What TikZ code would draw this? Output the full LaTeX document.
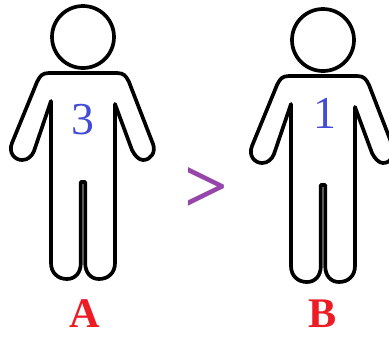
\documentclass[tikz,border=0pt]{standalone}
\usepackage{fontspec}
\setmainfont{Liberation Serif}
\usepackage{tikz}
\usetikzlibrary{positioning}
\definecolor{scoreblue}{RGB}{66,76,214}
\definecolor{signpurple}{RGB}{150,70,170}
\definecolor{namered}{RGB}{236,28,36}

\begin{document}
\begin{tikzpicture}[
    x=0.02cm, y=-0.02cm,
    outline/.style={draw=black, line width=2.1pt, line join=round},
    score/.style={text=scoreblue, font=\fontsize{26}{26}\selectfont, inner sep=0pt},
    sign/.style={text=signpurple, font=\fontsize{44}{44}\selectfont\bfseries, inner sep=0pt},
    label name/.style={text=namered, font=\fontsize{24}{24}\selectfont\bfseries, inner sep=0pt},
    person/.pic={
        \draw[outline] (0,0) circle (31);
        \draw[outline] (-32,64) -- (-32,226)
            .. controls (-32,236) and (-25,242) .. (-16,242)
            .. controls (-8,242) and (-2.2,236) .. (-2.2,226)
            -- (-2.2,145) -- (2.2,145) -- (2.2,226)
            .. controls (2.2,236) and (8,242) .. (16,242)
            .. controls (25,242) and (32,236) .. (32,226)
            -- (32,67) -- (49,113)
            .. controls (52,119) and (56,123) .. (60,123)
            .. controls (68,123) and (73,115) .. (70,107)
            -- (46,45) .. controls (43,39) and (41,36) .. (34,36)
            -- (-34,36) .. controls (-41,36) and (-43,39) .. (-46,45)
            -- (-71,106) .. controls (-75,116) and (-68,123) .. (-61,123)
            .. controls (-55,123) and (-51,119) .. (-49,114)
            -- cycle;
    }
]
\clip (0,0) rectangle (389,336);

% ===== PEOPLE =====
\pic (personA) at (83,37) {person};
\pic (personB) at (323,40) {person};

% ===== SCORES =====
\node[score] (scoreA) at (83,120) {3};
\node[score] (scoreB) at (325,113) {1};
\node[sign] (compare) at (207,190) {>};

% ===== NAMES =====
\node[label name] (nameA) at (85,314) {A};
\node[label name] (nameB) at (323,314) {B};

\end{tikzpicture}
\end{document}
